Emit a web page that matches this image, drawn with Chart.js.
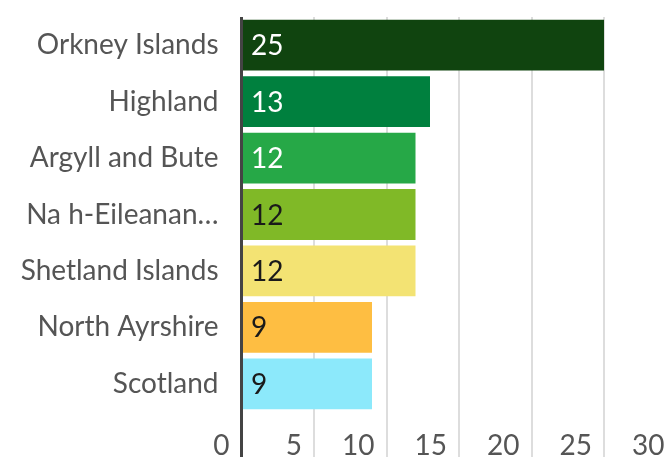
<!DOCTYPE html>
<html>
<head>
<meta charset="utf-8">
<script src="https://cdn.jsdelivr.net/npm/chart.js@4"></script>
<style>
  html, body { margin: 0; padding: 0; background: #fff; overflow: hidden; }
  #wrap { width: 664px; height: 457px; overflow: hidden; }
</style>
</head>
<body>
<div id="wrap"><canvas id="myChart" width="680" height="457"></canvas></div>
<script>
const areas = ['Orkney Islands', 'Highland', 'Argyll and Bute', 'Na h-Eileanan…', 'Shetland Islands', 'North Ayrshire', 'Scotland'];
const valores = [25, 13, 12, 12, 12, 9, 9];
const colores = ['#10440f', '#00803e', '#26a847', '#80b927', '#f3e373', '#febe42', '#8ce9fb'];
const colorTexto = ['#ffffff', '#ffffff', '#ffffff', '#1a1a1a', '#1a1a1a', '#1a1a1a', '#1a1a1a'];
const ticksX = [0, 5, 10, 15, 20, 25, 30];

const fuente = 'Lato, "Noto Sans", sans-serif';
const tamano = 28;

// numeros dentro de cada barra
const etiquetas = {
    id: 'etiquetas',
    afterDatasetsDraw(chart) {
        const ctx = chart.ctx;
        const meta = chart.getDatasetMeta(0);
        ctx.save();
        ctx.font = tamano + 'px ' + fuente;
        ctx.textBaseline = 'middle';
        ctx.textAlign = 'left';
        meta.data.forEach((barra, i) => {
            ctx.fillStyle = colorTexto[i];
            ctx.fillText(String(valores[i]), barra.base + 8, barra.y + 1);
        });
        ctx.restore();
    }
};

const ctx = document.querySelector('#myChart').getContext('2d');
new Chart(ctx, {
    type: 'bar',
    data: {
        labels: areas,
        datasets: [{
            data: valores,
            backgroundColor: colores,
            borderWidth: 0,
            barPercentage: 0.9,
            categoryPercentage: 1
        }]
    },
    options: {
        indexAxis: 'y',
        responsive: false,
        animation: false,
        layout: { padding: { top: 17, right: 3.5, left: 0, bottom: 0 } },
        plugins: { legend: { display: false }, tooltip: { enabled: false } },
        scales: {
            x: {
                position: 'bottom',
                min: 0,
                max: 30,
                afterBuildTicks: (scale) => { scale.ticks = ticksX.map(v => ({ value: v })); },
                afterFit: (scale) => {
                    scale.height = 45;
                    scale.paddingLeft = 0;
                    scale.paddingRight = 0;
                },
                border: { display: false },
                grid: {
                    color: (c) => c.tick && c.tick.value === 0 ? '#444444' : '#dddddd',
                    tickColor: (c) => c.tick && c.tick.value === 0 ? '#444444' : '#dddddd',
                    lineWidth: (c) => c.tick && c.tick.value === 0 ? 3 : 2,
                    drawTicks: true,
                    tickLength: 45
                },
                ticks: {
                    align: 'end',
                    labelOffset: -12,
                    padding: -28,
                    maxRotation: 0,
                    color: '#555555',
                    font: { family: fuente, size: tamano }
                }
            },
            y: {
                afterFit: (scale) => {
                    scale.width = 241.5;
                    scale.paddingTop = 0;
                    scale.paddingBottom = 0;
                },
                border: { display: false },
                grid: { display: false, drawTicks: false },
                ticks: {
                    padding: 23,
                    color: '#555555',
                    font: { family: fuente, size: tamano }
                }
            }
        }
    },
    plugins: [etiquetas]
});
</script>
</body>
</html>
